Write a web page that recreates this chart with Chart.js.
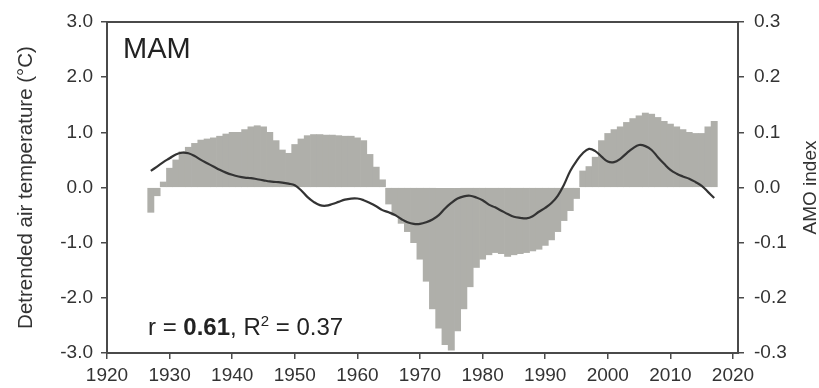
<!DOCTYPE html>
<html>
<head>
<meta charset="utf-8">
<script src="https://cdn.jsdelivr.net/npm/chart.js@4/dist/chart.umd.min.js"></script>
<style>
  html, body { margin: 0; padding: 0; background: #fff; }
  #wrap { width: 819px; height: 388px; }
</style>
</head>
<body>
<div id="wrap"><canvas id="mam"></canvas></div>
<script>
// spring (MAM) detrended air temperature vs. smoothed AMO index
var startYear = 1927;

var tempAnom = [
  -0.45, -0.15, 0.10, 0.35, 0.50, 0.65, 0.73, 0.80, 0.86, 0.88,   // 1927-1936
  0.90, 0.93, 0.97, 1.00, 1.00, 1.05, 1.10, 1.12, 1.10, 1.00,     // 1937-1946
  0.85, 0.68, 0.62, 0.78, 0.88, 0.94, 0.96, 0.96, 0.95, 0.95,     // 1947-1956
  0.94, 0.93, 0.93, 0.90, 0.85, 0.60, 0.37, 0.14, -0.30, -0.50,   // 1957-1966
  -0.65, -0.80, -1.00, -1.30, -1.70, -2.20, -2.55, -2.85, -2.95, -2.60, // 1967-1976
  -2.20, -1.80, -1.45, -1.30, -1.22, -1.18, -1.20, -1.25, -1.22, -1.20, // 1977-1986
  -1.18, -1.15, -1.12, -1.05, -0.95, -0.80, -0.60, -0.42, -0.20, 0.30,  // 1987-1996
  0.38, 0.55, 0.85, 0.98, 1.05, 1.10, 1.18, 1.25, 1.30, 1.35,     // 1997-2006
  1.33, 1.27, 1.20, 1.15, 1.10, 1.05, 1.00, 0.98, 0.98, 1.10,     // 2007-2016
  1.20                                                             // 2017
];

var amoIndex = [
  0.030, 0.038, 0.046, 0.053, 0.060, 0.063, 0.062, 0.057, 0.050, 0.044,
  0.038, 0.032, 0.027, 0.023, 0.020, 0.018, 0.017, 0.015, 0.013, 0.011,
  0.010, 0.009, 0.007, 0.004, -0.005, -0.017, -0.026, -0.032, -0.033, -0.030,
  -0.026, -0.022, -0.020, -0.020, -0.023, -0.028, -0.034, -0.041, -0.045, -0.050,
  -0.057, -0.063, -0.066, -0.066, -0.063, -0.058, -0.050, -0.038, -0.028, -0.020,
  -0.016, -0.015, -0.018, -0.023, -0.031, -0.036, -0.042, -0.048, -0.053, -0.055,
  -0.056, -0.052, -0.044, -0.037, -0.028, -0.015, 0.005, 0.030, 0.048, 0.062,
  0.070, 0.066, 0.056, 0.047, 0.046, 0.052, 0.062, 0.071, 0.077, 0.075,
  0.068, 0.055, 0.043, 0.032, 0.025, 0.020, 0.016, 0.010, 0.003, -0.008,
  -0.019
];

var yearTicks = [1920, 1930, 1940, 1950, 1960, 1970, 1980, 1990, 2000, 2010, 2020];
var seasonLabel = 'MAM';
var corrR = '0.61';
var corrR2 = '0.37';

var FONT = '"Liberation Sans", Arial, sans-serif';
var INK = '#333';
var AXIS = '#4a4a4a';

var tempPts = tempAnom.map(function (v, i) { return { x: startYear + i, y: v }; });
var amoPts = amoIndex.map(function (v, i) { return { x: startYear + i, y: v }; });

// frame round the plot plus the in-plot annotations
var decorations = {
  id: 'decorations',
  afterDraw: function (chart) {
    var ctx = chart.ctx, a = chart.chartArea;
    ctx.save();
    ctx.strokeStyle = AXIS;
    ctx.lineWidth = 2;
    ctx.strokeRect(a.left, a.top, a.right - a.left, a.bottom - a.top);

    ctx.fillStyle = '#222';
    ctx.textBaseline = 'alphabetic';
    ctx.textAlign = 'left';
    ctx.font = '29px ' + FONT;
    ctx.fillText(seasonLabel, 123, 58);

    // r = 0.61, R² = 0.37
    var x = 148, y = 335;
    var parts = [
      ['r = ', '24px ' + FONT, 0],
      [corrR, 'bold 24px ' + FONT, 0],
      [', R', '24px ' + FONT, 0],
      ['2', '15px ' + FONT, -9],
      [' = ' + corrR2, '24px ' + FONT, 0]
    ];
    parts.forEach(function (p) {
      ctx.font = p[1];
      ctx.fillText(p[0], x, y + p[2]);
      x += ctx.measureText(p[0]).width;
    });

    // right axis title reads bottom to top
    ctx.font = '19px ' + FONT;
    ctx.fillStyle = INK;
    ctx.translate(811, (a.top + a.bottom) / 2);
    ctx.rotate(-Math.PI / 2);
    ctx.textAlign = 'center';
    ctx.textBaseline = 'middle';
    ctx.fillText('AMO index', 0, 0);
    ctx.restore();
  }
};

var config = {
  type: 'bar',
  data: {
    datasets: [{
      type: 'line',
      label: 'AMO index',
      data: amoPts,
      yAxisID: 'y2',
      borderColor: '#333',
      borderWidth: 2.2,
      pointRadius: 0,
      tension: 0.4,
      order: 0
    }, {
      label: 'Detrended air temperature',
      data: tempPts,
      yAxisID: 'y',
      backgroundColor: '#afafaa',
      borderWidth: 0,
      barPercentage: 1,
      categoryPercentage: 1,
      order: 1
    }]
  },
  options: {
    responsive: true,
    maintainAspectRatio: false,
    animation: false,
    layout: { padding: { top: 22, left: 0, right: 0, bottom: 0 } },
    plugins: {
      legend: { display: false },
      tooltip: { enabled: false }
    },
    scales: {
      x: {
        type: 'linear',
        min: 1920,
        max: 2020.8,
        offset: false,
        grid: { offset: false, drawOnChartArea: false, drawTicks: true, tickLength: 6, color: AXIS, lineWidth: 1.5 },
        border: { display: false },
        afterBuildTicks: function (s) { s.ticks = yearTicks.map(function (v) { return { value: v }; }); },
        ticks: {
          autoSkip: false,
          maxRotation: 0,
          padding: 5,
          color: INK,
          font: { family: FONT, size: 19 },
          callback: function (v) { return String(v); }
        },
        afterFit: function (s) { s.height = 35; }
      },
      y: {
        position: 'left',
        min: -3,
        max: 3,
        grid: { drawOnChartArea: false, drawTicks: true, tickLength: 6, color: AXIS, lineWidth: 1.5 },
        border: { display: false },
        ticks: {
          stepSize: 1,
          padding: 8,
          color: INK,
          font: { family: FONT, size: 19 },
          callback: function (v) { return v.toFixed(1); }
        },
        title: {
          display: true,
          text: 'Detrended air temperature (°C)',
          color: INK,
          font: { family: FONT, size: 20.5 },
          padding: { top: 14, bottom: 0 }
        },
        afterFit: function (s) { s.width = 107; }
      },
      y2: {
        position: 'right',
        min: -0.3,
        max: 0.3,
        grid: { drawOnChartArea: false, drawTicks: true, tickLength: 6, color: AXIS, lineWidth: 1.5 },
        border: { display: false },
        ticks: {
          stepSize: 0.1,
          padding: 10,
          color: INK,
          font: { family: FONT, size: 19 },
          callback: function (v) {
            var s = v.toFixed(1);
            return s === '-0.0' ? '0.0' : s;
          }
        },
        afterFit: function (s) { s.width = 81; }
      }
    }
  },
  plugins: [decorations]
};

var ctx = document.getElementById('mam');
window.mamChart = new Chart(ctx, config);
</script>
</body>
</html>
